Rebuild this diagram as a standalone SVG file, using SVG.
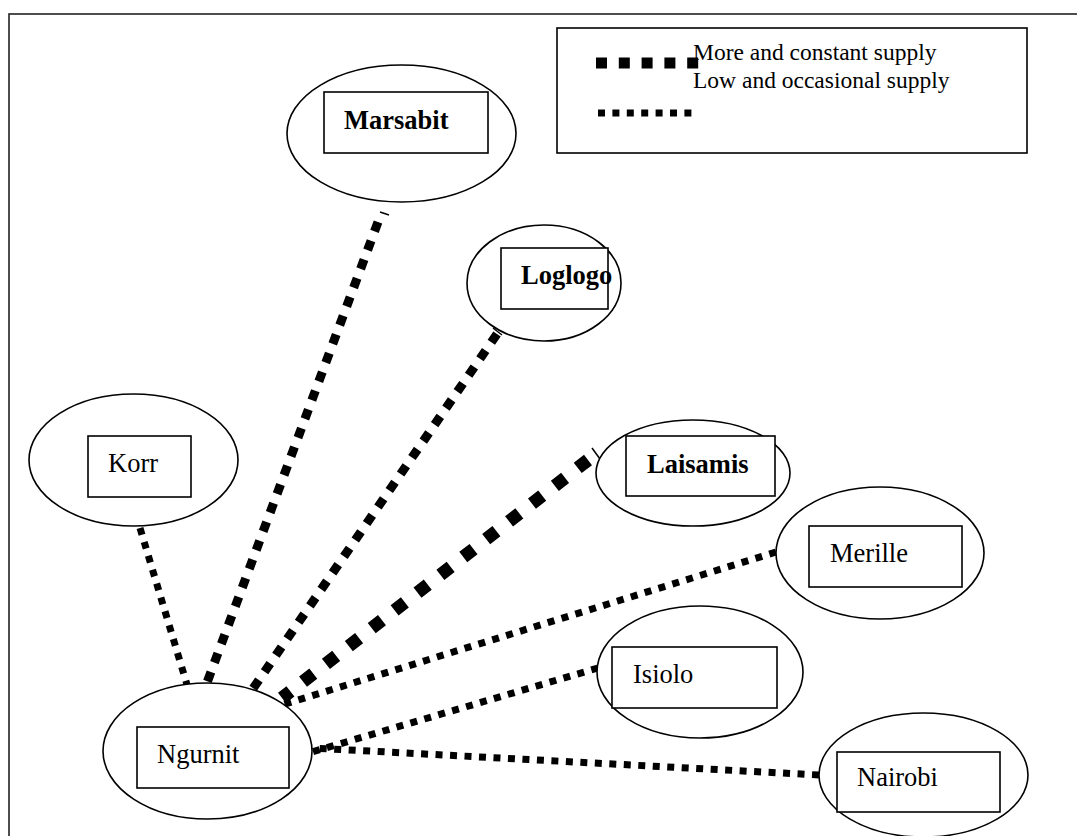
<svg xmlns="http://www.w3.org/2000/svg" width="1077" height="836" viewBox="0 0 1077 836">
  <style>
    .frame { fill: none; stroke: #222; stroke-width: 1.6; }
    .oval { fill: #fff; stroke: #000; stroke-width: 1.6; }
    .box { fill: #fff; stroke: #000; stroke-width: 1.6; }
    .lbl { font-family: "Liberation Serif", "Times New Roman", serif; font-size: 26.5px; fill: #000; }
    .bold { font-weight: bold; }
    .legend-text { font-family: "Liberation Serif", "Times New Roman", serif; font-size: 23.5px; fill: #000; }
    .thin { fill: none; stroke: #000; stroke-width: 7; stroke-dasharray: 7 7.5; }
    .medium { fill: none; stroke: #000; stroke-width: 9; stroke-dasharray: 10 10; }
    .heavy { fill: none; stroke: #000; stroke-width: 13; stroke-dasharray: 13 16; }
    .tick { fill: none; stroke: #000; stroke-width: 1.5; }
  </style>

  <!-- page frame -->
  <rect class="frame" x="9" y="14" width="1100" height="900"/>

  <!-- legend -->
  <g id="legend">
    <rect class="box" x="557" y="28" width="470" height="125"/>
    <line x1="596" y1="63" x2="699" y2="63" stroke="#000" stroke-width="11" stroke-dasharray="11 11.8"/>
    <line x1="598" y1="113" x2="695" y2="113" stroke="#000" stroke-width="7" stroke-dasharray="7 7.4"/>
    <text class="legend-text" x="693" y="60">More and constant supply</text>
    <text class="legend-text" x="693" y="88">Low and occasional supply</text>
  </g>

  <!-- supply routes -->
  <g id="connectors">
    <line class="thin" x1="140" y1="528" x2="188" y2="688"/>
    <line class="medium" x1="378" y1="222" x2="205" y2="688"/>
    <line class="tick" x1="380" y1="212" x2="389" y2="215"/>
    <line class="medium" x1="497" y1="334" x2="252" y2="690"/>
    <line class="tick" x1="493" y1="328" x2="502" y2="335"/>
    <line class="heavy" x1="588" y1="460" x2="282" y2="698"/>
    <line class="tick" x1="592" y1="448" x2="600" y2="459"/>
    <line class="thin" x1="776" y1="552" x2="282" y2="705"/>
    <line class="thin" x1="598" y1="668" x2="312" y2="752"/>
    <line class="thin" x1="819" y1="775" x2="312" y2="748"/>
  </g>

  <g id="marsabit">
    <ellipse class="oval" cx="401.5" cy="133.5" rx="114.5" ry="68.5"/>
    <rect class="box" x="324" y="92" width="164" height="61"/>
    <text class="lbl bold" x="344" y="129">Marsabit</text>
  </g>

  <g id="loglogo">
    <ellipse class="oval" cx="544" cy="283" rx="77" ry="58"/>
    <rect class="box" x="501" y="248" width="107" height="61"/>
    <text class="lbl bold" x="521" y="284">Loglogo</text>
  </g>

  <g id="korr">
    <ellipse class="oval" cx="133.5" cy="460" rx="104.5" ry="66"/>
    <rect class="box" x="88" y="436" width="103" height="61"/>
    <text class="lbl" x="108" y="472">Korr</text>
  </g>

  <g id="laisamis">
    <ellipse class="oval" cx="693" cy="473" rx="97" ry="53"/>
    <rect class="box" x="626" y="436" width="149" height="60"/>
    <text class="lbl bold" x="647" y="473">Laisamis</text>
  </g>

  <g id="merille">
    <ellipse class="oval" cx="880" cy="553" rx="104" ry="66"/>
    <rect class="box" x="809" y="526" width="153" height="61"/>
    <text class="lbl" x="830" y="562">Merille</text>
  </g>

  <g id="isiolo">
    <ellipse class="oval" cx="700" cy="672" rx="103" ry="66"/>
    <rect class="box" x="612" y="647" width="165" height="61"/>
    <text class="lbl" x="633" y="683">Isiolo</text>
  </g>

  <g id="nairobi">
    <ellipse class="oval" cx="923.5" cy="775" rx="104.5" ry="62"/>
    <rect class="box" x="837" y="752" width="163" height="60"/>
    <text class="lbl" x="857" y="786">Nairobi</text>
  </g>

  <g id="ngurnit">
    <ellipse class="oval" cx="207.5" cy="751" rx="104.5" ry="68"/>
    <rect class="box" x="137" y="727" width="152" height="61"/>
    <text class="lbl" x="157" y="763">Ngurnit</text>
  </g>
</svg>
